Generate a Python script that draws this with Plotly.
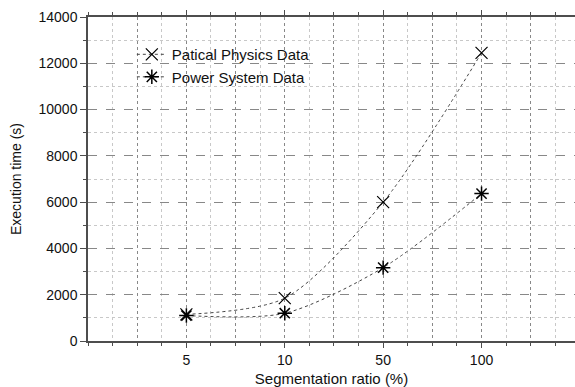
import plotly.graph_objects as go

categories = ["5", "10", "50", "100"]
patical = [1150, 1850, 6000, 12450]
power = [1100, 1200, 3170, 6370]
names = ["Patical Physics Data", "Power System Data"]

pos = [i + 1 for i in range(len(categories))]

FONT = "Liberation Sans"
AX = "#4d4d4d"

fig = go.Figure()
fig.add_trace(go.Scatter(
    x=pos, y=patical, name=names[0], mode="lines+markers",
    line=dict(color="#444444", width=1, dash="dot", shape="spline", smoothing=0.8),
    marker=dict(symbol="x-thin-open", size=12, color="black", line=dict(width=1.2, color="black")),
))
fig.add_trace(go.Scatter(
    x=pos, y=power, name=names[1], mode="lines+markers",
    line=dict(color="#444444", width=1, dash="dot", shape="spline", smoothing=0.8),
    marker=dict(symbol="asterisk-open", size=12, color="black", line=dict(width=1.5, color="black")),
))

xtickvals = [i * 0.5 for i in range(10)]
xticktext = [categories[int(v) - 1] if v == int(v) and 1 <= v <= 4 else "" for v in xtickvals]

fig.update_layout(
    width=575, height=387,
    margin=dict(l=88, r=0, t=17, b=46),
    paper_bgcolor="white", plot_bgcolor="white",
    font=dict(family=FONT, size=14, color="#111111"),
    showlegend=True,
    legend=dict(x=0.09, y=0.935, xanchor="left", yanchor="top",
                bgcolor="rgba(0,0,0,0)", font=dict(family=FONT, size=15),
                itemwidth=30, tracegroupgap=0),
    xaxis=dict(
        range=[0, 4.95], tickmode="array", tickvals=xtickvals, ticktext=xticktext,
        showline=True, linecolor=AX, linewidth=1.5, mirror="ticks",
        ticks="outside", ticklen=5, tickcolor=AX, tickwidth=1.2,
        showgrid=True, gridcolor="#888888", griddash="dot", gridwidth=1,
        minor=dict(tickvals=[i * 0.25 for i in range(20)], ticks="outside", ticklen=3,
                   tickcolor=AX, showgrid=True, gridcolor="#c8c8c8", griddash="dot", gridwidth=1),
        zeroline=False,
        title=dict(text="Segmentation ratio (%)", font=dict(size=15), standoff=8),
        tickfont=dict(size=14),
    ),
    yaxis=dict(
        range=[0, 14000], tickmode="linear", tick0=0, dtick=2000, tickformat="d",
        showline=True, linecolor=AX, linewidth=1.5, mirror=False,
        ticks="outside", ticklen=6, tickcolor=AX, tickwidth=1.2,
        showgrid=True, gridcolor="#888888", griddash="dash", gridwidth=1,
        minor=dict(dtick=1000, tick0=0, ticks="outside", ticklen=3, tickcolor=AX,
                   showgrid=True, gridcolor="#c8c8c8", griddash="dot", gridwidth=1),
        zeroline=False,
        title=dict(text="Execution time (s)", font=dict(size=14), standoff=14),
        tickfont=dict(size=14),
    ),
)

fig.write_html("out.html")
